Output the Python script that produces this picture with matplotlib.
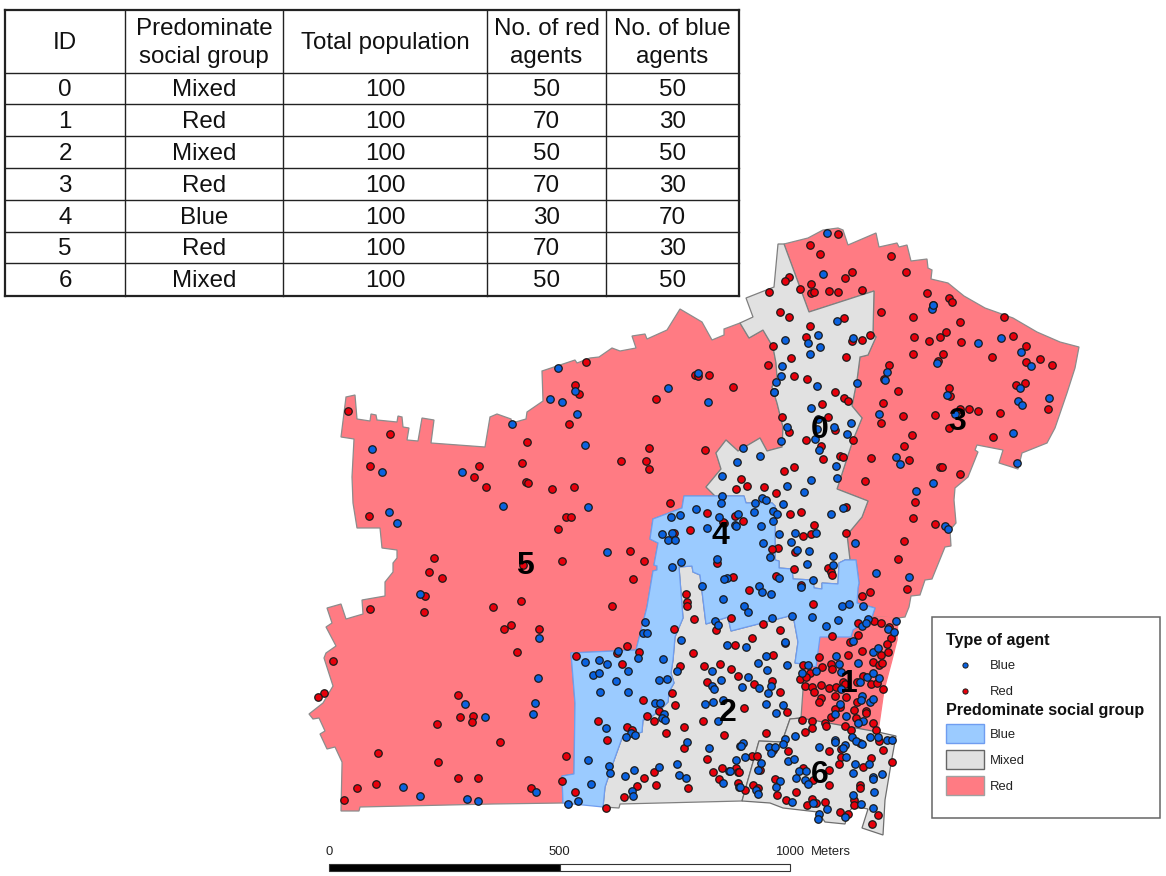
import matplotlib
matplotlib.use("Agg")
import matplotlib.pyplot as plt
from matplotlib.patches import Polygon, Rectangle

plt.rcParams['font.family'] = ['Liberation Sans', 'DejaVu Sans']

# table contents
table_headers = ["ID", "Predominate\nsocial group", "Total population", "No. of red\nagents", "No. of blue\nagents"]
zone_ids = ["0", "1", "2", "3", "4", "5", "6"]
zone_groups = ["Mixed", "Red", "Mixed", "Red", "Blue", "Red", "Mixed"]
zone_totals = [100, 100, 100, 100, 100, 100, 100]
zone_red = [50, 70, 50, 70, 30, 70, 50]
zone_blue = [50, 30, 50, 30, 70, 30, 50]

# zone outlines (image pixels)
zone_5 = [(346,397),(355,395),(357,419),(370,421),(371,414),(376,415),(377,420),(397,422),(398,416),(402,417),(403,427),(409,428),(407,440),(418,441),(422,418),(434,420),(431,443),(485,447),(490,417),(497,414),(511,419),(512,423),(526,419),(527,412),(543,401),(542,371),(575,360),(577,363),(590,358),(599,357),(612,348),(620,351),(636,348),(632,336),(645,334),(647,339),(667,330),(680,309),(702,322),(712,340),(724,335),(724,329),(740,323),(749,338),(763,330),(773,347),(776,363),(777,377),(772,387),(777,403),(783,427),(782,447),(767,451),(760,438),(738,451),(726,440),(716,453),(721,469),(706,487),(715,496),(684,496),(682,508),(653,519),(650,539),(658,543),(654,565),(657,566),(657,570),(653,571),(647,607),(636,650),(571,653),(575,703),(574,774),(562,776),(563,803),(493,804),(360,807),(359,811),(341,811),(342,765),(342,762),(335,747),(327,749),(320,734),(325,731),(319,718),(313,719),(309,714),(323,703),(333,686),(324,658),(326,653),(336,646),(326,627),(332,623),(327,608),(341,604),(346,619),(363,614),(362,600),(385,596),(385,582),(393,572),(393,563),(397,558),(397,550),(382,548),(380,528),(357,528),(353,503),(352,477),(354,439),(341,437)]
zone_3 = [(784,244),(808,238),(823,230),(838,228),(843,230),(848,245),(876,233),(879,247),(897,243),(899,247),(907,245),(911,261),(927,259),(928,268),(932,270),(931,279),(948,283),(964,296),(985,308),(1013,318),(1037,332),(1060,342),(1079,347),(1075,368),(1067,393),(1055,428),(1047,443),(1037,447),(1022,453),(1018,469),(999,463),(1003,450),(977,445),(975,450),(978,452),(968,477),(955,488),(954,500),(956,523),(950,530),(951,546),(945,547),(932,579),(925,580),(920,595),(911,596),(909,607),(905,617),(898,618),(872,617),(875,608),(857,603),(858,588),(859,583),(856,560),(850,560),(847,535),(862,517),(868,501),(837,489),(853,440),(862,418),(852,406),(857,380),(860,357),(868,355),(876,337),(873,333),(874,291),(809,312)]
zone_1 = [(853,630),(872,617),(898,618),(897,640),(892,660),(884,690),(878,732),(801,718),(803,690),(803,664),(816,667),(820,637),(851,637)]
zone_0 = [(778,244),(784,244),(809,312),(874,291),(873,333),(876,337),(868,355),(860,357),(857,380),(852,406),(862,418),(853,440),(837,489),(868,501),(862,517),(847,535),(850,560),(845,560),(839,563),(838,584),(822,583),(822,589),(814,588),(813,580),(793,579),(792,569),(779,568),(779,561),(775,560),(775,506),(772,503),(746,503),(744,496),(715,496),(706,487),(721,469),(716,453),(726,440),(738,451),(760,438),(767,451),(782,447),(783,427),(777,403),(772,387),(777,377),(776,363),(773,347),(763,330),(749,338),(740,323),(753,317),(746,298),(774,287)]
zone_2 = [(679,567),(692,566),(693,572),(700,575),(706,624),(728,617),(731,631),(793,615),(798,642),(795,663),(803,664),(803,690),(801,718),(790,719),(782,742),(759,741),(742,801),(620,804),(619,808),(603,807),(605,787),(612,766),(622,738),(630,736),(642,732),(643,720),(650,718),(660,710),(668,702),(669,692),(674,683),(671,673),(673,660),(675,637),(683,618)]
zone_6 = [(759,741),(782,742),(790,719),(801,718),(878,732),(896,736),(892,758),(885,800),(883,835),(862,828),(868,809),(863,808),(852,808),(848,813),(845,824),(825,822),(818,812),(783,808),(770,803),(742,801)]
zone_4 = [(684,496),(744,496),(746,503),(772,503),(775,506),(775,560),(779,561),(779,568),(792,569),(793,579),(813,580),(814,588),(822,589),(822,583),(838,584),(839,563),(845,560),(856,560),(859,583),(858,588),(857,603),(875,608),(872,617),(853,630),(851,637),(820,637),(816,667),(803,664),(795,663),(798,642),(793,615),(731,631),(728,617),(706,624),(700,575),(693,572),(692,566),(679,567),(683,618),(675,637),(673,660),(671,673),(674,683),(669,692),(668,702),(660,710),(650,718),(643,720),(642,732),(630,736),(622,738),(612,766),(605,787),(603,807),(563,803),(562,776),(574,774),(575,703),(571,653),(636,650),(647,607),(653,571),(657,570),(657,566),(654,565),(658,543),(650,539),(653,519),(682,508)]

# agent locations
red_agents = [
    (348,411),(390,434),(370,466),(369,516),(586,362),(575,385),(579,394),(569,424),(527,442),(522,463),(479,466),(474,477),(486,487),(526,482),(528,483),(552,489),(574,487),(566,517),(571,517),(558,529),(621,461),
    (838,234),(810,245),(820,254),(891,256),(906,272),(852,272),(845,278),(789,277),(785,281),(811,284),(800,289),(811,293),(814,292),(829,291),(838,292),(862,290),(769,292),(927,293),(933,305),(780,312),(881,312),(789,317),(844,318),(913,317),(810,326),(806,337),(870,335),(862,340),(852,341),(914,337),(929,341),(940,337),(773,346),(791,358),(846,357),(913,354),(768,365),(889,365),(938,361),(794,376),(807,379),(884,379),(835,392),(844,398),(848,401),(898,391),(822,404),(883,403),(828,417),(903,416),(935,415),(881,423),(782,417),(789,432),(835,430),(912,435),(853,440),(806,440),(904,446),(821,446),(840,456),(843,457),(823,459),(871,458),(909,460),(940,467),(794,467),(784,471),(865,481),(741,479),(747,486),(736,489),(764,487),(776,493),(915,502),(801,512),(790,514),(846,507),(913,518),(935,524),(814,525),(670,503),(707,513),(735,516),(743,521),(649,448),(705,450),(646,461),(649,469),(656,399),(695,375),(698,376),(709,375),(733,387),(774,392),(724,523),
    (434,558),(429,572),(442,578),(425,596),(370,609),(424,612),(523,565),(562,561),(521,601),(493,607),(612,606),(511,625),(504,629),(539,629),(517,652),(576,656),(333,661),(324,693),(318,697),(458,695),(460,717),(473,716),(472,722),(437,724),(598,721),(607,740),(500,742),(378,753),(566,756),(438,762),(458,778),(478,778),(562,781),(376,784),(357,788),(531,788),(575,792),(344,800),(606,808),(617,653),
    (674,533),(690,530),(630,551),(644,561),(633,579),(717,563),(733,577),(686,594),(687,602),(687,606),(694,619),(674,629),(731,618),(716,630),(735,645),(693,653),(627,646),(639,652),(723,522),
    (811,534),(803,536),(846,533),(904,541),(778,548),(772,549),(795,552),(898,559),(794,569),(828,568),(831,572),(832,575),(776,576),(907,589),(801,585),(749,590),(870,592),(862,596),(813,604),(763,624),(780,630),(752,638),(785,643),(773,655),(832,636),(858,623),(874,621),(881,623),(889,627),(858,635),(891,638),(887,644),(850,642),(819,657),(848,655),(862,651),(881,655),(888,652),
    (622,664),(680,666),(704,666),(720,664),(731,669),(738,676),(707,682),(672,693),(643,700),(675,705),(659,711),(647,716),(654,721),(703,721),(627,727),(632,730),(684,727),(666,733),(724,735),(684,748),(707,759),(722,768),(713,772),(736,768),(654,772),(644,778),(719,779),(738,772),(738,783),(637,786),(656,785),(688,788),(624,797),
    (754,684),(772,681),(780,692),(744,708),(787,712),(766,733),(873,662),(879,665),(882,663),(803,665),(831,664),(822,667),(832,669),(810,673),(800,679),(806,677),(863,676),(857,682),(843,682),(829,688),(821,685),(805,686),(812,687),(814,692),(836,687),(845,684),(871,684),(877,683),(883,689),(835,696),(846,697),(821,698),(819,702),(857,702),(840,707),(835,709),(831,717),(854,710),(866,711),(866,713),(856,718),(873,723),(802,720),(812,721),(825,723),(826,726),(845,726),(812,728),(805,732),(851,730),(876,730),(860,743),(879,741),(829,751),(841,749),(883,750),(841,757),(752,756),(757,756),(788,751),(773,750),(871,758),(892,762),(839,764),(863,767),(739,772),(760,770),(829,770),(803,768),(775,779),(753,785),(813,780),(829,785),(860,785),(860,788),(745,790),(758,788),(796,792),(777,795),(786,800),(812,799),(825,802),(807,805),(816,803),(854,800),(854,805),(840,812),(848,814),(878,815),(872,824),
    (949,298),(952,302),(960,322),(1004,317),(946,332),(961,342),(1013,336),(1026,346),(943,354),(992,357),(1040,359),(1026,362),(1052,365),(1025,383),(1016,385),(949,388),(950,396),(1048,409),(969,409),(978,411),(960,409),(1000,413),(949,428),(993,437),(942,467),(960,474),
]
blue_agents = [
    (558,368),(575,391),(550,399),(562,402),(577,414),(512,424),(585,445),(372,449),(382,472),(462,472),(503,506),(588,507),(389,512),(397,523),
    (827,233),(823,274),(932,309),(837,321),(818,335),(785,340),(808,343),(853,338),(820,347),(810,354),(782,366),(937,363),(887,372),(781,376),(885,380),(776,382),(857,383),(817,386),(774,392),(811,408),(879,414),(851,423),(818,419),(817,429),(787,427),(834,427),(847,434),(815,439),(781,441),(819,450),(743,448),(760,456),(737,462),(896,457),(900,464),(836,466),(722,476),(837,478),(811,480),(787,486),(804,492),(916,491),(933,483),(722,496),(721,503),(762,498),(766,500),(755,503),(783,504),(843,508),(831,514),(773,511),(777,514),(754,512),(738,514),(696,509),(680,515),(671,517),(719,517),(773,521),(761,526),(735,525),(707,528),(668,388),(698,373),(708,402),
    (607,552),(420,594),(539,638),(618,651),(585,662),(599,660),(607,664),(593,675),(599,673),(616,681),(538,678),(600,692),(465,704),(535,703),(533,714),(485,717),(606,728),(588,760),(609,766),(610,773),(591,784),(403,787),(536,792),(420,796),(467,799),(478,801),(568,804),(578,801),
    (662,534),(672,533),(668,540),(675,540),(681,562),(672,567),(717,559),(727,578),(724,579),(702,586),(723,599),(645,622),(715,621),(718,625),(643,633),(647,633),(681,640),(727,645),(663,659),(638,658),
    (736,526),(779,534),(795,533),(816,533),(791,542),(763,543),(855,543),(797,550),(809,551),(770,557),(833,556),(807,564),(833,565),(876,573),(779,578),(909,577),(813,580),(801,587),(759,586),(762,592),(771,594),(744,606),(748,612),(842,606),(849,604),(863,606),(772,618),(792,616),(812,617),(838,620),(826,626),(868,619),(862,626),(866,623),(896,621),(888,629),(894,632),(746,647),(785,642),(853,641),(766,656),(836,656),(873,652),(878,648),
    (628,671),(677,671),(712,671),(659,680),(667,679),(721,680),(712,686),(714,689),(628,692),(713,702),(705,704),(723,700),(655,703),(660,703),(664,714),(662,718),(665,720),(718,721),(631,733),(635,735),(626,737),(687,742),(709,748),(740,746),(736,760),(634,770),(677,764),(659,767),(729,771),(625,776),(679,775),(686,778),(723,783),(739,787),(632,791),(633,796),
    (758,663),(787,665),(767,670),(858,663),(839,664),(802,673),(808,665),(816,671),(841,672),(748,677),(867,677),(873,673),(879,678),(860,682),(742,687),(759,688),(771,686),(768,693),(841,689),(870,702),(873,699),(862,696),(861,700),(840,704),(766,704),(783,705),(776,713),(835,714),(846,716),(863,721),(858,723),(795,736),(743,743),(741,746),(785,739),(783,744),(769,747),(771,753),(775,747),(819,747),(835,740),(835,742),(845,745),(843,748),(852,737),(856,741),(862,744),(870,737),(878,737),(887,740),(892,740),(745,757),(761,763),(730,771),(758,770),(788,761),(794,759),(846,757),(855,764),(869,764),(853,773),(882,774),(799,771),(806,771),(796,778),(780,781),(776,787),(805,780),(808,784),(873,777),(873,779),(740,787),(756,790),(758,794),(874,792),(853,795),(792,802),(813,803),(827,809),(861,804),(873,808),(819,814),(818,819),(845,817),
    (933,305),(978,343),(1001,338),(1021,352),(1031,366),(1020,388),(947,395),(1049,398),(1018,401),(1022,405),(955,414),(1013,433),(1017,463),(945,526),(948,529),
]

# zone number labels
zone_labels = [("0",820,430),("1",849,684),("2",728,713),("3",957,422),("4",720,536),("5",525,566),("6",820,775)]

# scale bar, metres
scale_ticks = [0, 500, 1000]

RED_FILL = "#ff7b83"
GREY_FILL = "#e1e1e1"
BLUE_FILL = "#9bcbff"
RED_DOT = "#e8000b"
BLUE_DOT = "#0a62e0"

fig = plt.figure(figsize=(11.66, 8.76), dpi=100)
ax = fig.add_axes([0, 0, 1, 1])
ax.set_xlim(0, 1166)
ax.set_ylim(876, 0)
ax.axis("off")

# --- table ---
col_x = [5, 125, 283, 487, 606, 739]
row_y = [10, 73, 104, 136, 168, 200, 232, 263, 296]
for x in col_x:
    ax.plot([x, x], [row_y[0], row_y[-1]], color="#222222", lw=1.6 if x in (5, 739) else 1.0, solid_capstyle="projecting")
for y in row_y:
    ax.plot([col_x[0], col_x[-1]], [y, y], color="#222222", lw=1.6 if y in (10, 296) else 1.0, solid_capstyle="projecting")

rows = [table_headers] + [list(r) for r in zip(zone_ids, zone_groups, zone_totals, zone_red, zone_blue)]
for i, row in enumerate(rows):
    yc = (row_y[i] + row_y[i + 1]) / 2
    for j, val in enumerate(row):
        xc = (col_x[j] + col_x[j + 1]) / 2
        ax.text(xc, yc + 1.5, str(val), ha="center", va="center", fontsize=17.4, color="#111111", linespacing=1.38)

# --- map ---
zones = [(zone_5, RED_FILL, "#8c8c8c"), (zone_3, RED_FILL, "#8c8c8c"), (zone_1, RED_FILL, "#ff7b83"),
         (zone_0, GREY_FILL, "#7f7f7f"), (zone_2, GREY_FILL, "#7f7f7f"), (zone_6, GREY_FILL, "#6e6e6e"),
         (zone_4, BLUE_FILL, "#6f9df0")]
for pts, fill, edge in zones:
    ax.add_patch(Polygon(pts, closed=True, facecolor=fill, edgecolor=edge, lw=0.9, zorder=2))

ax.scatter([p[0] for p in red_agents], [p[1] for p in red_agents], s=29, c=RED_DOT, edgecolors="#1a1a1a", linewidths=0.9, zorder=3)
ax.scatter([p[0] for p in blue_agents], [p[1] for p in blue_agents], s=29, c=BLUE_DOT, edgecolors="#1a1a1a", linewidths=0.9, zorder=4)

for lab, x, y in zone_labels:
    ax.text(x, y, lab, ha="center", va="center", fontsize=23, fontweight="bold", color="black", zorder=5)

# --- legend ---
ax.add_patch(Rectangle((932, 617), 228, 201, facecolor="white", edgecolor="#666666", lw=1.1, zorder=6))
ax.text(946, 641, "Type of agent", fontsize=11.6, fontweight="bold", va="center", zorder=7, color="#111111")
ax.text(946, 710, "Predominate social group", fontsize=11.6, fontweight="bold", va="center", zorder=7, color="#111111")
ax.scatter([965], [665], s=14, c=BLUE_DOT, edgecolors="#1a1a1a", linewidths=0.7, zorder=7)
ax.scatter([965], [691], s=14, c=RED_DOT, edgecolors="#1a1a1a", linewidths=0.7, zorder=7)
ax.text(990, 666, "Blue", fontsize=9.4, va="center", zorder=7, color="#222222")
ax.text(990, 692, "Red", fontsize=9.4, va="center", zorder=7, color="#222222")
leg_patches = [("Blue", BLUE_FILL, "#6f9df0", 724), ("Mixed", GREY_FILL, "#666666", 750), ("Red", RED_FILL, "#a0a0a0", 776)]
for name, fill, edge, top in leg_patches:
    ax.add_patch(Rectangle((946, top), 38, 19, facecolor=fill, edgecolor=edge, lw=1.0, zorder=7))
    ax.text(990, top + 11, name, fontsize=9.4, va="center", zorder=7, color="#222222")

# --- scale bar ---
px_per_m = (790 - 329) / 1000
bar_x = [329 + m * px_per_m for m in scale_ticks]
ax.add_patch(Rectangle((bar_x[0], 864), bar_x[1] - bar_x[0], 7, facecolor="black", edgecolor="#333333", lw=0.8, zorder=3))
ax.add_patch(Rectangle((bar_x[1], 864), bar_x[2] - bar_x[1], 7, facecolor="white", edgecolor="#333333", lw=0.8, zorder=3))
for m, x in zip(scale_ticks, bar_x):
    ax.text(x, 852, str(m), ha="center", va="center", fontsize=9.4, color="#222222")
ax.text(811, 852, "Meters", ha="left", va="center", fontsize=9.4, color="#222222")

fig.savefig("out.png", dpi=100)
